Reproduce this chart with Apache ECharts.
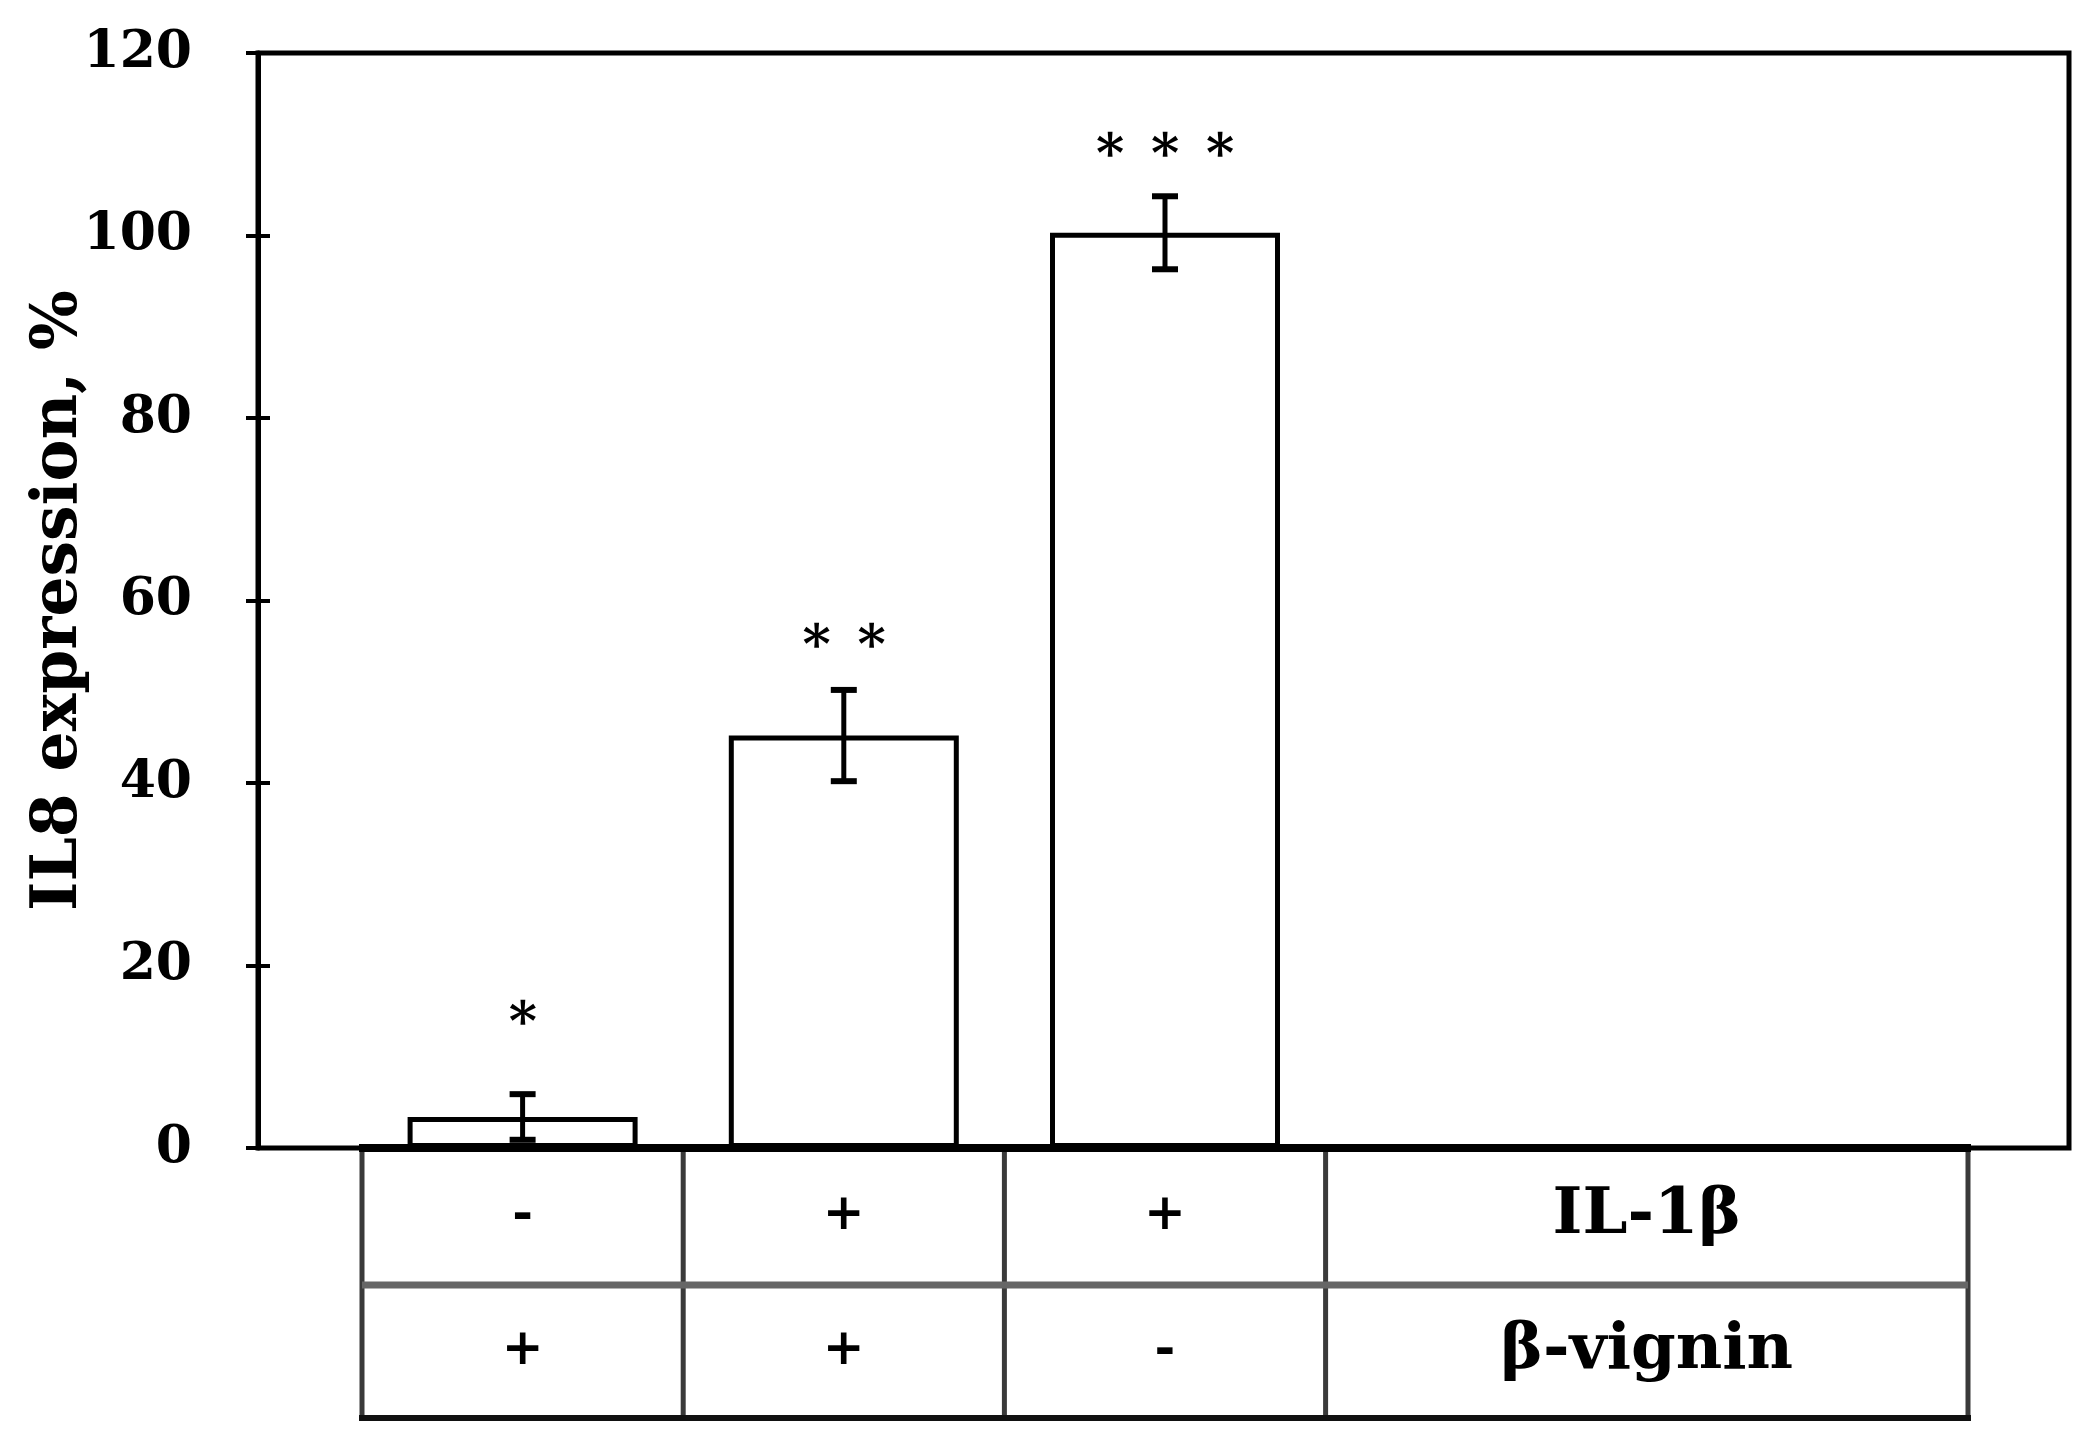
<!DOCTYPE html>
<html>
<head>
<meta charset="utf-8">
<script src="https://cdn.jsdelivr.net/npm/echarts@6.0.0/dist/echarts.min.js"></script>
<style>
  html, body { margin: 0; padding: 0; background: #ffffff; }
  #main { width: 2094px; height: 1455px; }
</style>
</head>
<body>
<div id="main"></div>
<script>
// data
var groups = ["g1", "g2", "g3", "", ""];
var meanValues = [3.4, 45.2, 100.3];
var errValues = [2.5, 5.0, 4.0];
var starCount = [1, 2, 3];
var starY = [14.6, 55.9, 109.7];
var ilBetaRow = ["-", "+", "+"];
var vigninRow = ["+", "+", "-"];
var rowNames = ["IL-1β", "β-vignin"];
var yTicks = [0, 20, 40, 60, 80, 100, 120];

var FONT = "DejaVu Serif";
var myChart = echarts.init(document.getElementById("main"));

var errData = meanValues.map(function (v, i) {
  return [i, v, errValues[i], starY[i], starCount[i]];
});

// error bars + asterisks
function renderErr(params, api) {
  var x = api.value(0);
  var v = api.value(1);
  var e = api.value(2);
  var top = api.coord([x, v + e]);
  var bot = api.coord([x, v - e]);
  var s = api.coord([x, api.value(3)]);
  var n = api.value(4);
  var cap = 13;
  var children = [
    { type: "line", shape: { x1: top[0], y1: top[1], x2: bot[0], y2: bot[1] }, style: { stroke: "#000", lineWidth: 5 } },
    { type: "line", shape: { x1: top[0] - cap, y1: top[1], x2: top[0] + cap, y2: top[1] }, style: { stroke: "#000", lineWidth: 6 } },
    { type: "line", shape: { x1: bot[0] - cap, y1: bot[1], x2: bot[0] + cap, y2: bot[1] }, style: { stroke: "#000", lineWidth: 6 } }
  ];
  for (var k = 0; k < n; k++) {
    children.push({
      type: "text",
      style: {
        text: "∗",
        x: s[0] + (k - (n - 1) / 2) * 55,
        y: s[1],
        fill: "#000",
        font: "bold 54px '" + FONT + "'",
        align: "center",
        verticalAlign: "middle"
      }
    });
  }
  return { type: "group", children: children };
}

var option = {
  backgroundColor: "#ffffff",
  animation: false,
  grid: [
    { left: 258, top: 53, width: 1811, height: 1095, show: true, borderColor: "#000", borderWidth: 5 },
    { left: 362, top: 53, width: 1606, height: 1095 }
  ],
  xAxis: [
    { gridIndex: 0, type: "category", data: [""], show: false },
    { gridIndex: 1, type: "category", data: groups, show: false }
  ],
  yAxis: [
    {
      gridIndex: 0,
      type: "value",
      min: 0,
      max: 120,
      interval: 20,
      name: "IL8 expression, %",
      nameLocation: "middle",
      nameGap: 167,
      nameMoveOverlap: false,
      nameTextStyle: { fontFamily: FONT, fontWeight: "bold", fontSize: 63, color: "#000" },
      axisLine: { show: true, lineStyle: { color: "#000", width: 5 } },
      axisTick: { show: true, inside: false, length: 12, lineStyle: { color: "#000", width: 4 } },
      splitLine: { show: false },
      axisLabel: {
        margin: 66,
        fontFamily: FONT,
        fontWeight: "bold",
        fontSize: 52,
        color: "#000",
        formatter: function (v) { return yTicks.indexOf(v) >= 0 ? String(v) : ""; }
      }
    },
    {
      gridIndex: 0,
      type: "value",
      min: 0,
      max: 120,
      interval: 20,
      position: "left",
      axisLine: { show: false },
      axisTick: { show: true, inside: true, length: 12, lineStyle: { color: "#000", width: 4 } },
      axisLabel: { show: false },
      splitLine: { show: false }
    },
    { gridIndex: 1, type: "value", min: 0, max: 120, show: false, splitLine: { show: false } }
  ],
  series: [
    {
      type: "bar",
      xAxisIndex: 1,
      yAxisIndex: 2,
      barWidth: 230,
      data: meanValues,
      itemStyle: { color: "#ffffff", borderColor: "#000", borderWidth: 5 },
      z: 3
    },
    {
      type: "custom",
      xAxisIndex: 1,
      yAxisIndex: 2,
      renderItem: renderErr,
      data: errData,
      z: 5
    }
  ]
};
myChart.setOption(option);

// condition table under the axis, columns follow the category bands
var c0 = myChart.convertToPixel({ xAxisIndex: 1 }, 0);
var c1 = myChart.convertToPixel({ xAxisIndex: 1 }, 1);
var band = c1 - c0;
var tTop = 1148, tMid = 1285, tBot = 1418;
var xLeft = c0 - band / 2;
var xRight = c0 + band * 4.5;
var g = [];
function hline(y, x1, x2, w, c) {
  g.push({ type: "line", shape: { x1: x1, y1: y, x2: x2, y2: y }, style: { stroke: c, lineWidth: w }, z: 10 });
}
function vline(x, w, c) {
  g.push({ type: "line", shape: { x1: x, y1: tTop, x2: x, y2: tBot }, style: { stroke: c, lineWidth: w }, z: 9 });
}
function cellText(t, x, y, size) {
  g.push({
    type: "text",
    style: { text: t, x: x, y: y, align: "center", verticalAlign: "middle", fill: "#000", font: "bold " + size + "px '" + FONT + "'" },
    z: 11
  });
}
[0, 1, 2, 3].forEach(function (i) { vline(xLeft + band * i, 5, "#3a3a3a"); });
vline(xRight, 5, "#3a3a3a");
hline(tTop, xLeft - 3, xRight + 3, 8, "#000");
hline(tMid, xLeft, xRight, 7, "#666");
hline(tBot, xLeft - 3, xRight + 3, 6, "#111");
var yRow1 = (tTop + tMid) / 2;
var yRow2 = (tMid + tBot) / 2;
for (var i = 0; i < ilBetaRow.length; i++) {
  var cx = myChart.convertToPixel({ xAxisIndex: 1 }, i);
  cellText(ilBetaRow[i], cx, yRow1, 50);
  cellText(vigninRow[i], cx, yRow2, 50);
}
var nameX = xLeft + band * 4;
cellText(rowNames[0], nameX, yRow1, 64);
cellText(rowNames[1], nameX, yRow2, 64);
myChart.setOption({ graphic: g });
</script>
</body>
</html>
